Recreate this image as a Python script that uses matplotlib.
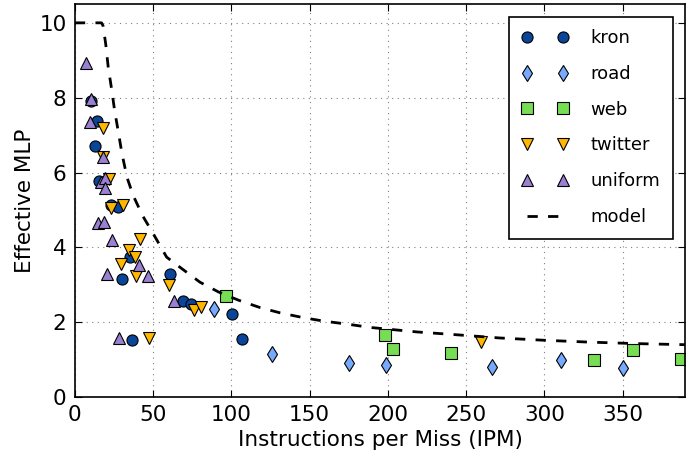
import matplotlib
matplotlib.use("Agg")
import matplotlib.pyplot as plt

# data
kron_x = [10.5, 13.1, 14.1, 15.6, 22.9, 27.4, 30.1, 35.2, 36.2, 60.7, 68.8, 74.0, 100.6, 106.7]
kron_y = [7.90, 6.72, 7.39, 5.77, 5.14, 5.07, 3.15, 3.74, 1.52, 3.30, 2.56, 2.50, 2.21, 1.54]

road_x = [89.1, 125.9, 175.0, 198.5, 266.5, 310.7, 350.3]
road_y = [2.35, 1.15, 0.90, 0.85, 0.81, 0.99, 0.79]

web_x = [96.6, 197.9, 203.0, 240.2, 331.4, 356.7, 387.2]
web_y = [2.69, 1.65, 1.28, 1.18, 0.99, 1.27, 1.03]

twitter_x = [18.0, 18.0, 21.7, 22.8, 30.8, 41.7, 34.6, 38.3, 29.3, 38.9, 60.3, 76.1, 80.4, 47.4, 259.4]
twitter_y = [7.18, 6.41, 5.83, 5.05, 5.14, 4.22, 3.92, 3.74, 3.56, 3.24, 2.99, 2.32, 2.41, 1.59, 1.47]

uniform_x = [7.3, 10.1, 9.9, 18.0, 16.5, 19.5, 19.5, 14.7, 18.6, 24.0, 40.8, 20.8, 46.4, 63.3, 28.0]
uniform_y = [8.94, 7.97, 7.34, 6.41, 5.75, 5.85, 5.60, 4.65, 4.68, 4.21, 3.52, 3.30, 3.23, 2.57, 1.57]

model_x = [0, 17.0, 18.0, 19.7, 21.3, 23.3, 25.4, 27.6, 30.1, 33.3, 37.2, 43.2, 50.0, 58.6,
           67.1, 79.9, 91.7, 104.5, 118.4, 131.2, 146.2, 159.0, 173.9, 188.9, 218.8,
           242.3, 271.2, 299.0, 327.8, 357.7, 390.0]
model_y = [10.0, 10.0, 9.92, 9.43, 8.81, 8.27, 7.65, 7.12, 6.50, 5.87, 5.39, 4.85, 4.37, 3.74,
           3.47, 3.07, 2.81, 2.59, 2.39, 2.25, 2.12, 2.03, 1.95, 1.86, 1.74,
           1.67, 1.58, 1.52, 1.47, 1.43, 1.40]

plt.rcParams['font.family'] = 'DejaVu Sans'
fig = plt.figure(figsize=(7, 4.58), dpi=100)
ax = fig.add_axes([0.107, 0.133, 0.872, 0.858])

ax.plot(kron_x, kron_y, 'o', color='#0a4599', mec='black', mew=0.8, ms=8, label='kron')
ax.plot(road_x, road_y, 'd', color='#77aaff', mec='black', mew=0.8, ms=8, label='road')
ax.plot(web_x, web_y, 's', color='#77dd55', mec='black', mew=0.8, ms=8, label='web')
ax.plot(twitter_x, twitter_y, 'v', color='#ffb700', mec='black', mew=0.8, ms=8.5, label='twitter')
ax.plot(uniform_x, uniform_y, '^', color='#9980d0', mec='black', mew=0.8, ms=8.5, label='uniform')
ax.plot(model_x, model_y, color='black', lw=2, linestyle=(0, (3.7, 3.7)), label='model')

ax.set_xlim(0, 390)
ax.set_ylim(0, 10.5)
ax.set_xticks(range(0, 351, 50))
ax.set_yticks(range(0, 11, 2))
ax.tick_params(direction='in', top=True, right=True, length=5, labelsize=15.5, pad=6)
ax.grid(True, color='gray', linestyle=(0, (1, 4)), linewidth=0.8)
ax.set_axisbelow(True)
ax.set_xlabel('Instructions per Miss (IPM)', fontsize=15.5, labelpad=3)
ax.set_ylabel('Effective MLP', fontsize=15.5, labelpad=3)
for s in ax.spines.values():
    s.set_linewidth(1.2)

leg = ax.legend(loc='upper right', numpoints=2, fontsize=13, fancybox=False,
                edgecolor='black', framealpha=1, labelspacing=0.98, handlelength=2.6,
                handletextpad=1.2, borderpad=0.7, borderaxespad=0.7)
leg.get_frame().set_linewidth(1.2)

fig.savefig('out.png', dpi=100)
